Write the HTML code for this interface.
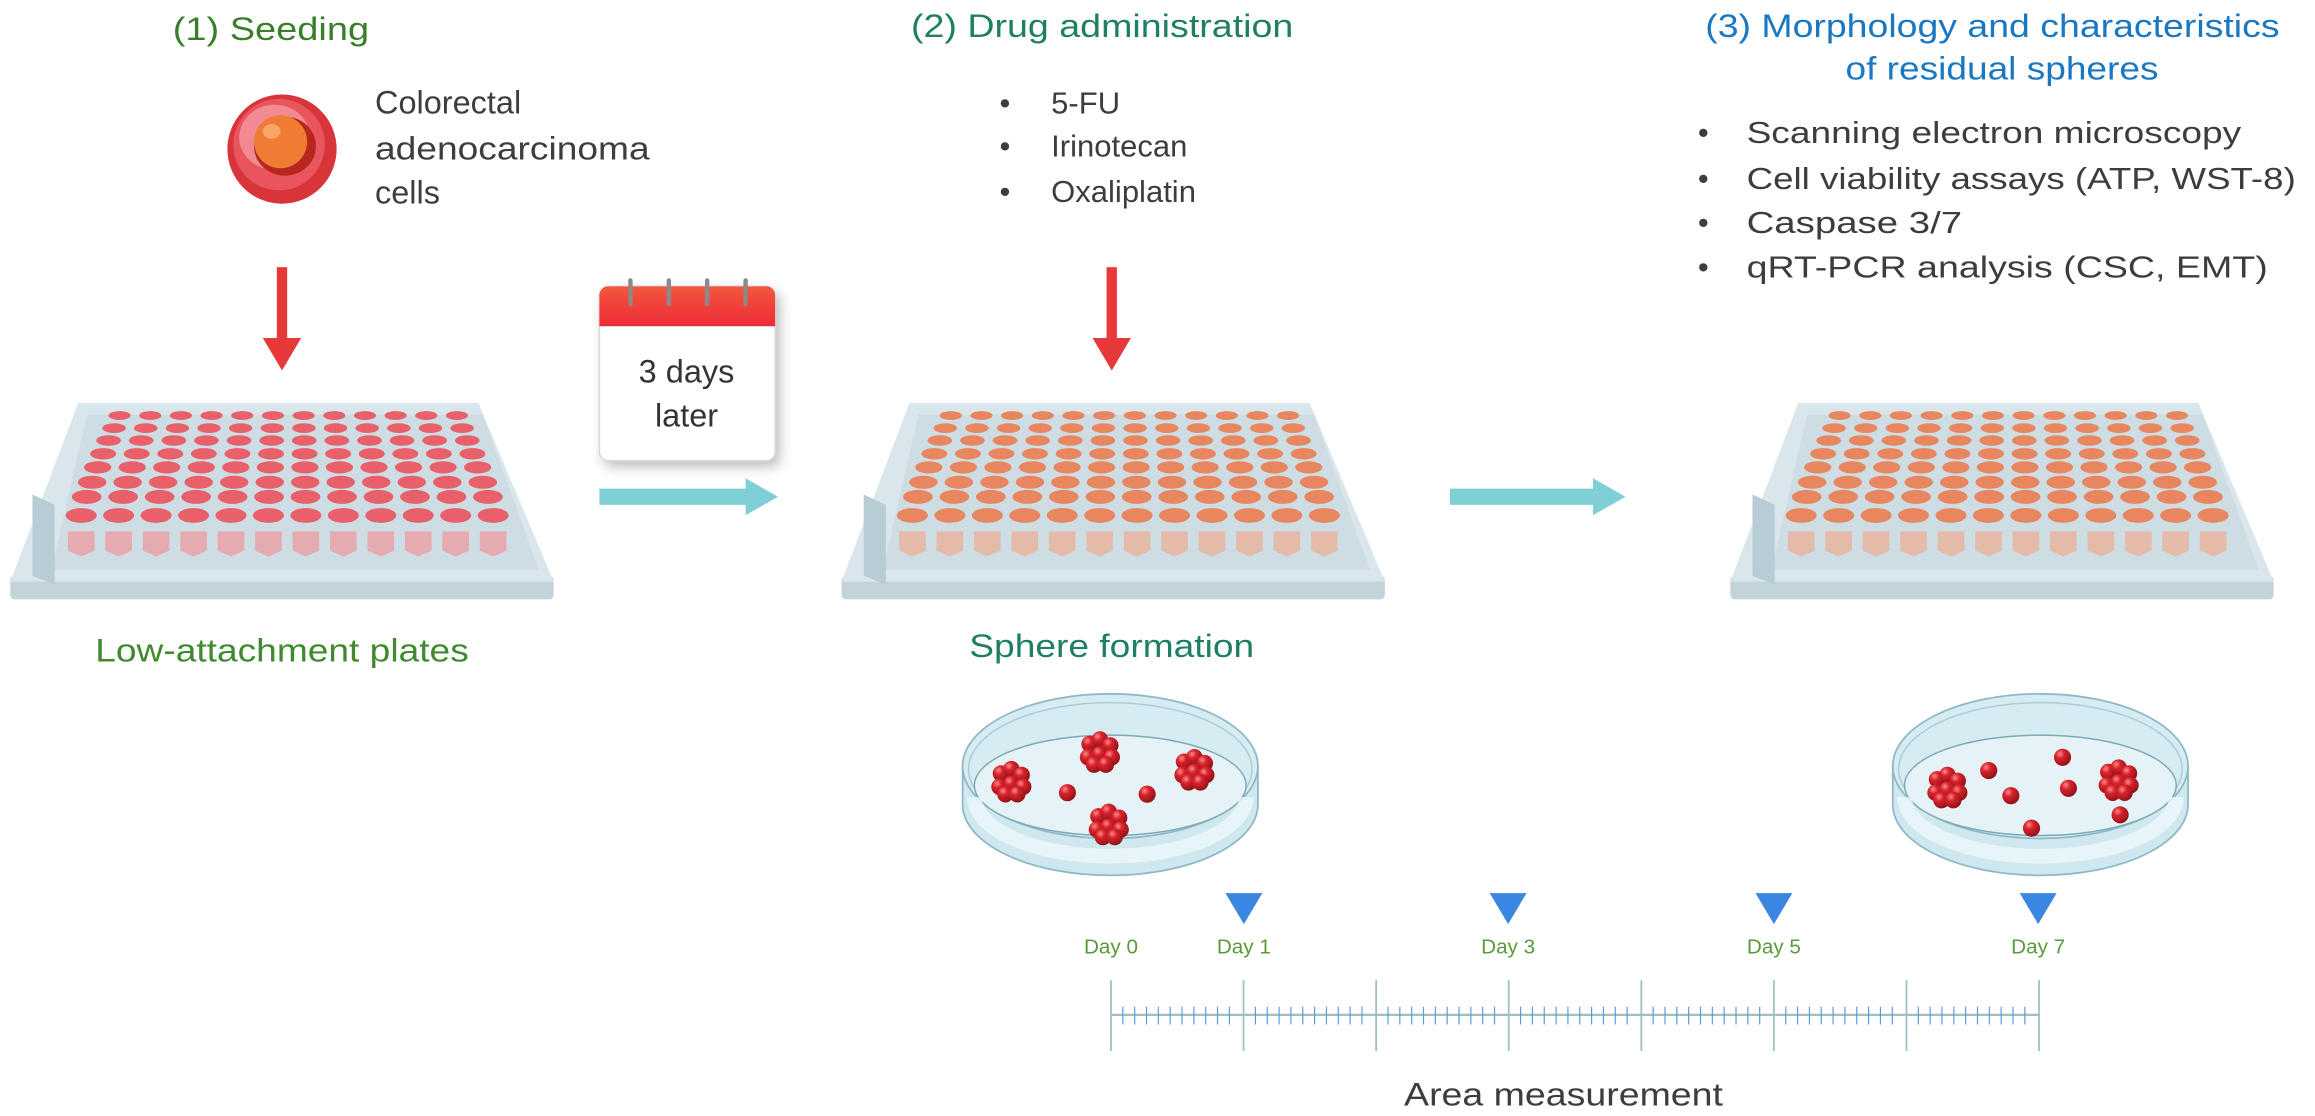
<!DOCTYPE html>
<html><head><meta charset="utf-8">
<style>
html,body{margin:0;padding:0;background:#fff;}
svg{display:block;}
text{font-family:"Liberation Sans",Arial,sans-serif;}
</style></head>
<body>
<svg id="s" width="2315" height="1116" viewBox="0 0 1568 756" preserveAspectRatio="none" xmlns="http://www.w3.org/2000/svg">
<defs>
<radialGradient id="sph" cx="0.35" cy="0.3" r="0.75">
<stop offset="0" stop-color="#ff8a8a"/><stop offset="0.35" stop-color="#d8232c"/><stop offset="1" stop-color="#8e1015"/>
</radialGradient>
<linearGradient id="calred" x1="0" y1="0" x2="0" y2="1"><stop offset="0" stop-color="#f4583e"/><stop offset="1" stop-color="#ee2a35"/></linearGradient>
<filter id="sh" x="-20%" y="-20%" width="150%" height="150%"><feDropShadow dx="3" dy="4" stdDeviation="4" flood-color="#000" flood-opacity="0.25"/></filter>
</defs>

<!-- Titles -->
<text x="117" y="27" font-size="22" fill="#3a7d2a" textLength="133" lengthAdjust="spacingAndGlyphs">(1) Seeding</text>
<text x="617" y="25" font-size="22" fill="#1f7f62" textLength="259" lengthAdjust="spacingAndGlyphs">(2) Drug administration</text>
<text x="1155" y="25" font-size="22" fill="#1a78c2" textLength="389" lengthAdjust="spacingAndGlyphs">(3) Morphology and characteristics</text>
<text x="1250" y="54" font-size="22" fill="#1a78c2" textLength="212" lengthAdjust="spacingAndGlyphs">of residual spheres</text>

<!-- cell -->
<ellipse cx="191" cy="101" rx="37" ry="37" fill="#d8343a"/>
<ellipse cx="189" cy="98" rx="31" ry="31" fill="#e8555c"/>
<ellipse cx="186" cy="93" rx="24" ry="22" fill="#f28a94"/>
<ellipse cx="193" cy="99" rx="21" ry="20" fill="#b8261e"/>
<ellipse cx="190" cy="96" rx="18" ry="18" fill="#f07b33"/>
<ellipse cx="184" cy="89" rx="6" ry="5" fill="#f9a66a"/>
<text font-size="22" fill="#3d3d3d">
<tspan x="254" y="77">Colorectal</tspan>
<tspan x="254" y="108" textLength="186" lengthAdjust="spacingAndGlyphs">adenocarcinoma</tspan>
<tspan x="254" y="138">cells</tspan>
</text>

<!-- drug bullets -->
<g font-size="21" fill="#3d3d3d">
<text x="677" y="77">•</text><text x="712" y="77">5-FU</text>
<text x="677" y="106">•</text><text x="712" y="106">Irinotecan</text>
<text x="677" y="137">•</text><text x="712" y="137">Oxaliplatin</text>
</g>
<g font-size="21" fill="#3d3d3d">
<text x="1150" y="97">•</text><text x="1183" y="97" textLength="335" lengthAdjust="spacingAndGlyphs">Scanning electron microscopy</text>
<text x="1150" y="128">•</text><text x="1183" y="128" textLength="372" lengthAdjust="spacingAndGlyphs">Cell viability assays (ATP, WST-8)</text>
<text x="1150" y="158">•</text><text x="1183" y="158" textLength="146" lengthAdjust="spacingAndGlyphs">Caspase 3/7</text>
<text x="1150" y="188">•</text><text x="1183" y="188" textLength="353" lengthAdjust="spacingAndGlyphs">qRT-PCR analysis (CSC, EMT)</text>
</g>

<!-- red arrows -->
<g fill="#e8393a">
<rect x="187.5" y="181" width="7" height="49"/><polygon points="178,229 204,229 191,251"/>
<rect x="749.5" y="181" width="7" height="49"/><polygon points="740,229 766,229 753,251"/>
</g>

<!-- calendar -->
<g filter="url(#sh)">
<rect x="406" y="194" width="119" height="118" rx="6" fill="#fff" stroke="#d8d8d8" stroke-width="1"/>
</g>
<path d="M406 221 V200 a6 6 0 0 1 6 -6 H519 a6 6 0 0 1 6 6 V221 Z" fill="url(#calred)"/>
<g stroke="#8a8a8a" stroke-width="3" stroke-linecap="round">
<line x1="427" y1="190" x2="427" y2="206"/><line x1="453" y1="190" x2="453" y2="206"/><line x1="479" y1="190" x2="479" y2="206"/><line x1="505" y1="190" x2="505" y2="206"/>
</g>
<text x="465" y="259" font-size="22" fill="#333" text-anchor="middle">3 days</text>
<text x="465" y="289" font-size="22" fill="#333" text-anchor="middle">later</text>

<!-- cyan arrows -->
<g fill="#7fd0d6">
<rect x="406" y="331" width="102" height="11"/><polygon points="505,324 527,336.5 505,349"/>
<rect x="982" y="331" width="100" height="11"/><polygon points="1079,324 1101,336.5 1079,349"/>
</g>

<g id="plates"></g>

<text x="191" y="448" font-size="22" fill="#3f8a2e" text-anchor="middle" textLength="253" lengthAdjust="spacingAndGlyphs">Low-attachment plates</text>
<text x="753" y="445" font-size="22" fill="#1f7f62" text-anchor="middle" textLength="193" lengthAdjust="spacingAndGlyphs">Sphere formation</text>

<g id="dishes"></g>

<!-- timeline -->
<g id="tl"></g>
<g fill="#3b86e0">
<polygon points="830,605 855,605 842.5,626"/>
<polygon points="1009,605 1034,605 1021.5,626"/>
<polygon points="1189,605 1214,605 1201.5,626"/>
<polygon points="1368,605 1393,605 1380.5,626"/>
</g>
<g font-size="14" fill="#5a9a3a" text-anchor="middle">
<text x="752.5" y="646">Day 0</text>
<text x="842.5" y="646">Day 1</text>
<text x="1021.5" y="646">Day 3</text>
<text x="1201.5" y="646">Day 5</text>
<text x="1380.5" y="646">Day 7</text>
</g>
<text x="1059" y="749" font-size="22" fill="#3d3d3d" text-anchor="middle" textLength="216" lengthAdjust="spacingAndGlyphs">Area measurement</text>
</svg>
<script>
var NS="http://www.w3.org/2000/svg";
function el(p,t,a){var e=document.createElementNS(NS,t);for(var k in a)e.setAttribute(k,a[k]);p.appendChild(e);return e;}
var P=document.getElementById('plates');
function plate(x0,wc,tc){
  el(P,'rect',{x:x0,y:390,width:368,height:16,rx:3,fill:'#c3d3da'});
  el(P,'polygon',{points:(x0+46)+',273 '+(x0+317)+',273 '+(x0+368)+',394 '+x0+',394',fill:'#d9e6eb'});
  el(P,'polygon',{points:(x0+52)+',281 '+(x0+320)+',281 '+(x0+358)+',386 '+(x0+28)+',386',fill:'#cddde3'});
  el(P,'polygon',{points:(x0+15)+',335 '+(x0+30)+',342 '+(x0+30)+',396 '+(x0+15)+',390',fill:'#b7ccd5'});
  var ry=[8.5,17,25.4,34.4,43.6,53.7,63.6,76.2];
  for(var r=0;r<8;r++){var t=r/7;var L=74-26*t,R=302.5+24.5*t;var rx=7.5+3*t,eh=3+2*t;
    for(var c=0;c<12;c++){var cx=x0+L+(R-L)*c/11;el(P,'ellipse',{cx:cx,cy:273+ry[r],rx:rx,ry:eh,fill:wc});}}
  for(var c=0;c<12;c++){var cx=x0+48+(327-48)*c/11;
    el(P,'polygon',{points:(cx-9)+',360 '+(cx+9)+',360 '+(cx+9)+',373 '+cx+',377 '+(cx-9)+',373',fill:tc});}
}
plate(7,'#e8606a','#e6aab1');
plate(570,'#e8875f','#e4bba9');
plate(1172,'#e8875f','#e4bba9');
var D=document.getElementById('dishes');
function dish(cx,sph){
  el(D,'path',{d:'M'+(cx-100)+' 519 L'+(cx-100)+' 545 A100 48 0 0 0 '+(cx+100)+' 545 L'+(cx+100)+' 519 Z',fill:'#cfe8ef',stroke:'#8fb8c6','stroke-width':1.2});
  el(D,'ellipse',{cx:cx,cy:519,rx:100,ry:49,fill:'#d6ecf2',stroke:'#8fb8c6','stroke-width':1.2});
  el(D,'ellipse',{cx:cx,cy:521,rx:96,ry:45,fill:'none',stroke:'#a9cdd8','stroke-width':1});
  el(D,'ellipse',{cx:cx,cy:532,rx:92,ry:34,fill:'#e6f3f6',stroke:'#7fa9b8','stroke-width':1});
  el(D,'path',{d:'M'+(cx-92)+' 540 A92 40 0 0 0 '+(cx+92)+' 540',fill:'none',stroke:'#eef8fa','stroke-width':10,opacity:0.8});
  sph.forEach(function(s){
    if(s[2]){var o=[[-7,-5],[0,-8],[7,-4],[-8,4],[0,2],[8,4],[-4,9],[4,9]];
      o.forEach(function(d){el(D,'circle',{cx:s[0]+d[0],cy:s[1]+d[1],r:5.6,fill:'url(#sph)'});});}
    else el(D,'circle',{cx:s[0],cy:s[1],r:5.8,fill:'url(#sph)'});
  });
}
dish(752,[[685,529,1],[745,509,1],[809,521,1],[751,558,1],[723,537],[777,538]]);
dish(1382,[[1319,533,1],[1347,522],[1362,539],[1397,513],[1401,534],[1435,528,1],[1436,552],[1376,561]]);
var T=document.getElementById('tl');
el(T,'line',{x1:752.5,y1:687.5,x2:1381,y2:687.5,stroke:'#9fbfc4','stroke-width':1.5});
for(var k=0;k<8;k++){var x=752.5+k*89.8;
  el(T,'line',{x1:x,y1:664,x2:x,y2:712,stroke:'#9fbfc4','stroke-width':1.2});
  if(k<7)for(var m=1;m<=10;m++){var xm=x+m*89.8/11.2;el(T,'line',{x1:xm,y1:682,x2:xm,y2:694,stroke:'#5b9bd0','stroke-width':0.8});}
}
</script>
</body></html>
